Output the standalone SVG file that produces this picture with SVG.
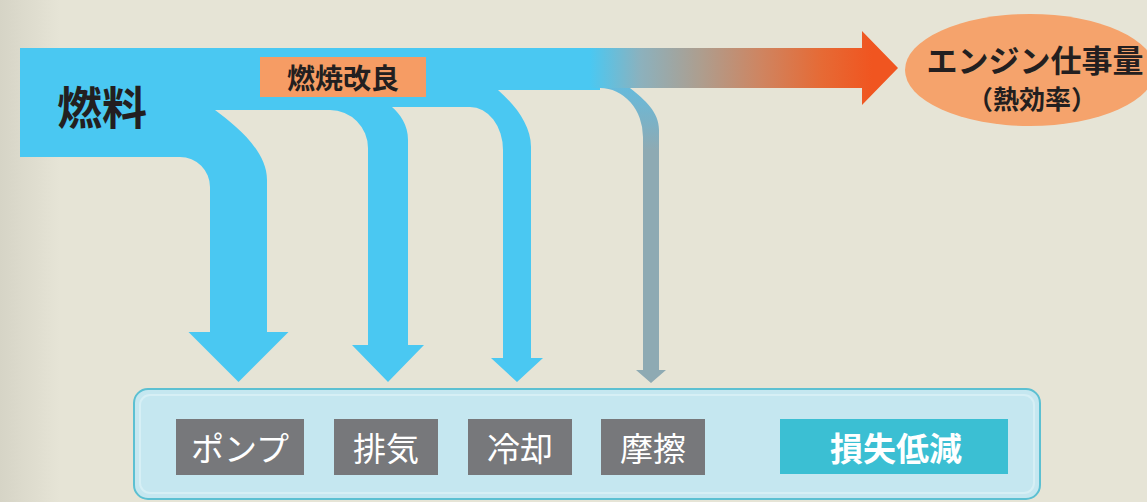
<svg xmlns="http://www.w3.org/2000/svg" width="1147" height="502" viewBox="0 0 1147 502">
  <defs>
    <linearGradient id="bg" x1="0" y1="0" x2="60" y2="0" gradientUnits="userSpaceOnUse">
      <stop offset="0" stop-color="#d6d4c6"/>
      <stop offset="1" stop-color="#e6e4d6"/>
    </linearGradient>
    <linearGradient id="heat" x1="590" y1="0" x2="872" y2="0" gradientUnits="userSpaceOnUse">
      <stop offset="0" stop-color="#4ac8f2"/>
      <stop offset="0.18" stop-color="#8cb1bd"/>
      <stop offset="0.39" stop-color="#ad9e8f"/>
      <stop offset="0.61" stop-color="#cf8460"/>
      <stop offset="0.82" stop-color="#e66a35"/>
      <stop offset="1" stop-color="#f05520"/>
    </linearGradient>
    <linearGradient id="fric" x1="0" y1="88" x2="0" y2="150" gradientUnits="userSpaceOnUse">
      <stop offset="0" stop-color="#66badb"/>
      <stop offset="1" stop-color="#8eaab3"/>
    </linearGradient>
    <style>
      .jp { font-family: "Noto Sans CJK JP", "Noto Sans", sans-serif; }
      .dark { fill: #231f20; font-weight: bold; }
      .gray-box { fill: #77787b; }
      .gray-txt { fill: #ffffff; font-size: 33px; }
      .flow { fill: #4ac8f2; }
    </style>
  </defs>

  <rect x="0" y="0" width="1147" height="502" fill="#e6e4d6"/>
  <rect x="0" y="0" width="60" height="502" fill="url(#bg)"/>

  <g id="connectors">
    <path class="flow" d="M20,48 H600 V90 H498 C515,105 531,125 531,147 V358 H543 L517,382 L491,358 H503 V150 A33,43 0 0 0 470,107 H392 C400,114 408,125 408,140 V345 H424 L388,382 L352,345 H368 V148 A38,38 0 0 0 330,110 H215 C235,125 267,150 267,180 V332 H288.5 L238.5,382 L188.5,332 H210 V187 A30,30 0 0 0 180,157 H20 Z"/>
    <path fill="url(#heat)" d="M590,48 H862 V31 L898,68 L862,105 V88 H590 Z"/>
    <path fill="url(#fric)" d="M600,88 H630 C645,100 659,112 659,130 V370 H666 L651,383 L636,370 H643 V137 A43,49 0 0 0 600,88 Z"/>
  </g>

  <g id="fuel">
    <text class="jp dark" x="102" y="105" font-size="45" text-anchor="middle" dominant-baseline="central">燃料</text>
  </g>

  <g id="combustion">
    <rect x="260" y="57" width="166" height="40" fill="#f69c64"/>
    <text class="jp dark" x="343" y="77" font-size="28" text-anchor="middle" dominant-baseline="central">燃焼改良</text>
  </g>

  <g id="engine-work">
    <ellipse cx="1030" cy="70" rx="125" ry="56" fill="#f5a36c"/>
    <text class="jp dark" x="1035" y="58" font-size="31" text-anchor="middle" dominant-baseline="central">エンジン仕事量</text>
    <text class="jp dark" x="1032" y="97" font-size="26" text-anchor="middle" dominant-baseline="central">（熱効率）</text>
  </g>

  <g id="loss-panel">
    <rect x="134" y="389" width="906" height="110" rx="14" fill="#c5e7f0" stroke="#5cc0d2" stroke-width="2"/>
    <rect x="140" y="395" width="894" height="98" rx="10" fill="none" stroke="#d6eff5" stroke-width="2"/>
  </g>

  <g id="pump">
    <rect class="gray-box" x="176" y="419" width="128" height="56"/>
    <text class="jp gray-txt" x="240" y="447" text-anchor="middle" dominant-baseline="central">ポンプ</text>
  </g>
  <g id="exhaust">
    <rect class="gray-box" x="334" y="419" width="104" height="56"/>
    <text class="jp gray-txt" x="386" y="447" text-anchor="middle" dominant-baseline="central">排気</text>
  </g>
  <g id="cooling">
    <rect class="gray-box" x="468" y="419" width="104" height="56"/>
    <text class="jp gray-txt" x="520" y="447" text-anchor="middle" dominant-baseline="central">冷却</text>
  </g>
  <g id="friction">
    <rect class="gray-box" x="601" y="419" width="104" height="56"/>
    <text class="jp gray-txt" x="653" y="447" text-anchor="middle" dominant-baseline="central">摩擦</text>
  </g>
  <g id="loss-reduction">
    <rect x="780" y="419" width="228" height="55" fill="#3bbfd3"/>
    <text class="jp" x="896" y="447" font-size="33" font-weight="bold" fill="#ffffff" text-anchor="middle" dominant-baseline="central">損失低減</text>
  </g>
</svg>
